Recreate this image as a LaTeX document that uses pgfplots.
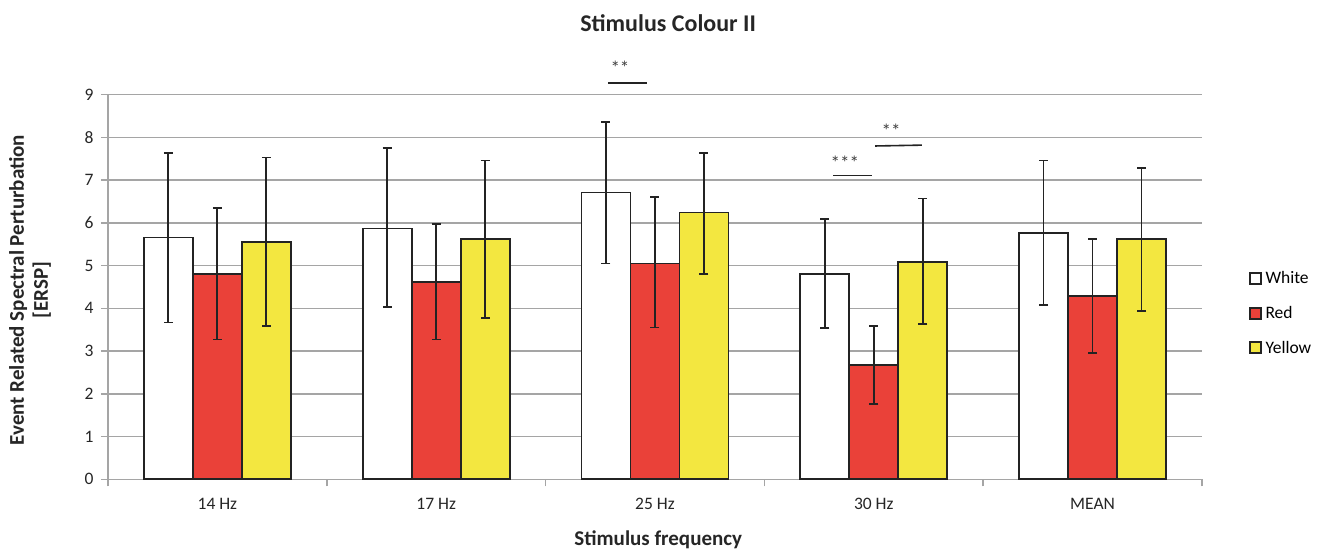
\documentclass[border=0pt]{standalone}
\usepackage{pgfplots}
\pgfplotsset{compat=1.18}
\usepackage{pgfplotstable}
\usepackage{fontspec}
\setmainfont{Carlito}
\definecolor{barred}{RGB}{234,65,57}
\definecolor{baryellow}{RGB}{243,231,64}
\definecolor{gridgray}{RGB}{165,165,165}
\definecolor{edge}{RGB}{35,35,35}

\pgfplotstableread{
x y ep em
0 5.66 1.98 1.99
1 5.87 1.88 1.83
2 6.71 1.65 1.66
3 4.80 1.29 1.26
4 5.76 1.70 1.69
}\white
\pgfplotstableread{
x y ep em
0 4.80 1.55 1.53
1 4.62 1.36 1.35
2 5.05 1.55 1.50
3 2.68 0.90 0.92
4 4.29 1.33 1.33
}\red
\pgfplotstableread{
x y ep em
0 5.55 1.98 1.97
1 5.62 1.84 1.84
2 6.24 1.40 1.44
3 5.09 1.48 1.45
4 5.62 1.67 1.68
}\yellow

\pgfplotsset{eb/.style={error bars/.cd, y dir=both, y explicit,
  error mark=|,
  error bar style={draw=edge, line width=1.8pt},
  error mark options={draw=edge, line width=1.8pt, mark size=4.5pt, solid}}}

\begin{document}
\begin{tikzpicture}[x=1pt,y=1pt]
\useasboundingbox (-108,-71.7) rectangle (1218,479.3);
\begin{axis}[
  at={(0,0)}, anchor=south west,
  scale only axis, width=1094pt, height=384.6pt,
  ybar=0pt, bar width=49pt,
  xmin=-0.5, xmax=4.5, ymin=0, ymax=9,
  ytick={0,1,...,9},
  xtick={0,1,2,3,4},
  xticklabels={14 Hz,17 Hz,25 Hz,30 Hz,MEAN},
  minor xtick={-0.5,0.5,1.5,2.5,3.5,4.5},
  major x tick style={draw=none},
  minor x tick style={gridgray, line width=1.5pt},
  minor tick length=7pt,
  y tick style={gridgray, line width=1.5pt},
  major tick length=7pt,
  tick align=outside,
  axis x line*=bottom, axis y line*=left,
  axis line style={gridgray, line width=1.5pt},
  ymajorgrids, grid style={gridgray, line width=1.5pt},
  tick label style={font=\fontsize{17.5}{20}\selectfont, text=black!85},
  yticklabel style={xshift=-4pt},
  xticklabel style={yshift=-8pt},
  /pgf/number format/assume math mode=true,
  clip=false,
  legend style={at={(1.043,0.432)}, anchor=west, draw=none, fill=none,
    font=\fontsize{17.5}{20}\selectfont, row sep=17pt, inner sep=0pt,
    nodes={inner xsep=3.5pt}},
  legend cell align=left,
  legend image code/.code={\draw[#1, line width=1.8pt] (0pt,-5.5pt) rectangle (11pt,5.5pt);},
]
\addplot[draw=edge, line width=1.7pt, fill=white, eb] table[x=x, y=y, y error plus=ep, y error minus=em]{\white};
\addplot[draw=edge, line width=1.7pt, fill=barred, eb] table[x=x, y=y, y error plus=ep, y error minus=em]{\red};
\addplot[draw=edge, line width=1.7pt, fill=baryellow, eb] table[x=x, y=y, y error plus=ep, y error minus=em]{\yellow};
\legend{White,Red,Yellow}

\draw[edge, line width=1.6pt] (axis cs:1.785,9.28) -- (axis cs:1.963,9.28);
\node[font=\fontsize{19}{21}\selectfont, text=black!75] at (axis cs:1.84,9.62) {**};
\draw[edge, line width=1.6pt] (axis cs:2.814,7.11) -- (axis cs:2.992,7.11);
\node[font=\fontsize{19}{21}\selectfont, text=black!75] at (axis cs:2.868,7.40) {***};
\draw[edge, line width=1.6pt] (axis cs:3.006,7.80) -- (axis cs:3.220,7.82);
\node[font=\fontsize{19}{21}\selectfont, text=black!75] at (axis cs:3.079,8.15) {**};

\node[font=\bfseries\fontsize{24}{28}\selectfont, text=black!85] at (rel axis cs:0.512,1.186) {Stimulus Colour II};
\node[font=\bfseries\fontsize{21}{25}\selectfont, text=black!85] at (rel axis cs:0.503,-0.158) {Stimulus frequency};
\node[font=\bfseries\fontsize{21}{24}\selectfont, text=black!85, rotate=90, align=center] at (rel axis cs:-0.0713,0.492) {Event Related Spectral Perturbation\\{}[ERSP]};
\end{axis}
\end{tikzpicture}
\end{document}
